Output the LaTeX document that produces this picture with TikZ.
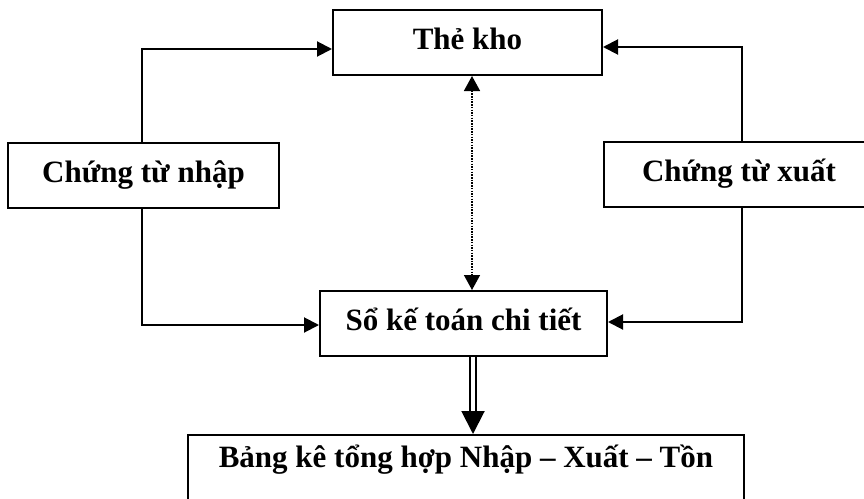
\documentclass[tikz,border=0pt]{standalone}
\usepackage{fontspec}
\setmainfont{Liberation Serif}
\usetikzlibrary{arrows.meta}
\tikzset{
  box/.style={draw, line width=2pt, rectangle, minimum height=65pt, inner sep=0pt,
    font=\fontsize{31}{36}\selectfont\bfseries, text height=22pt, text depth=8pt},
  conn/.style={line width=2pt, -{Triangle[length=15pt,width=15pt]}},
  dotconn/.style={line width=1.5pt, dash pattern=on 1.5pt off 1.2pt,
    {Triangle[length=15pt,width=16pt]}-{Triangle[length=15pt,width=16pt]}},
  dblconn/.style={line width=2pt, double, double distance=3.5pt,
    -{Triangle[length=23pt,width=23pt]}}
}
\begin{document}
\begin{tikzpicture}[x=1pt,y=-1pt]
\useasboundingbox (0,0) rectangle (864,498);
\node[box, minimum width=269pt] (kho) at (467.5,42.5) {Thẻ kho};
\node[box, minimum width=271pt] (nhap) at (143.5,175.5) {Chứng từ nhập};
\node[box, minimum width=270pt] (xuat) at (739,174.5) {Chứng từ xuất};
\node[box, minimum width=287pt] (so) at (463.5,323.5) {Sổ kế toán chi tiết};
\node[box, minimum width=556pt, text depth=22pt] (bang) at (466,467.5) {Bảng kê tổng hợp Nhập – Xuất – Tồn};
\draw[conn] (nhap.north -| 142,0) |- (kho.west |- 0,49);
\draw[conn] (nhap.south -| 142,0) |- (so.west |- 0,325);
\draw[conn] (xuat.north -| 742,0) |- (kho.east |- 0,47);
\draw[conn] (xuat.south -| 742,0) |- (so.east |- 0,322);
\draw[dotconn] (kho.south -| 472,0) -- (so.north -| 472,0);
\draw[dblconn] (so.south -| 473,0) -- (bang.north -| 473,0);
\end{tikzpicture}
\end{document}
